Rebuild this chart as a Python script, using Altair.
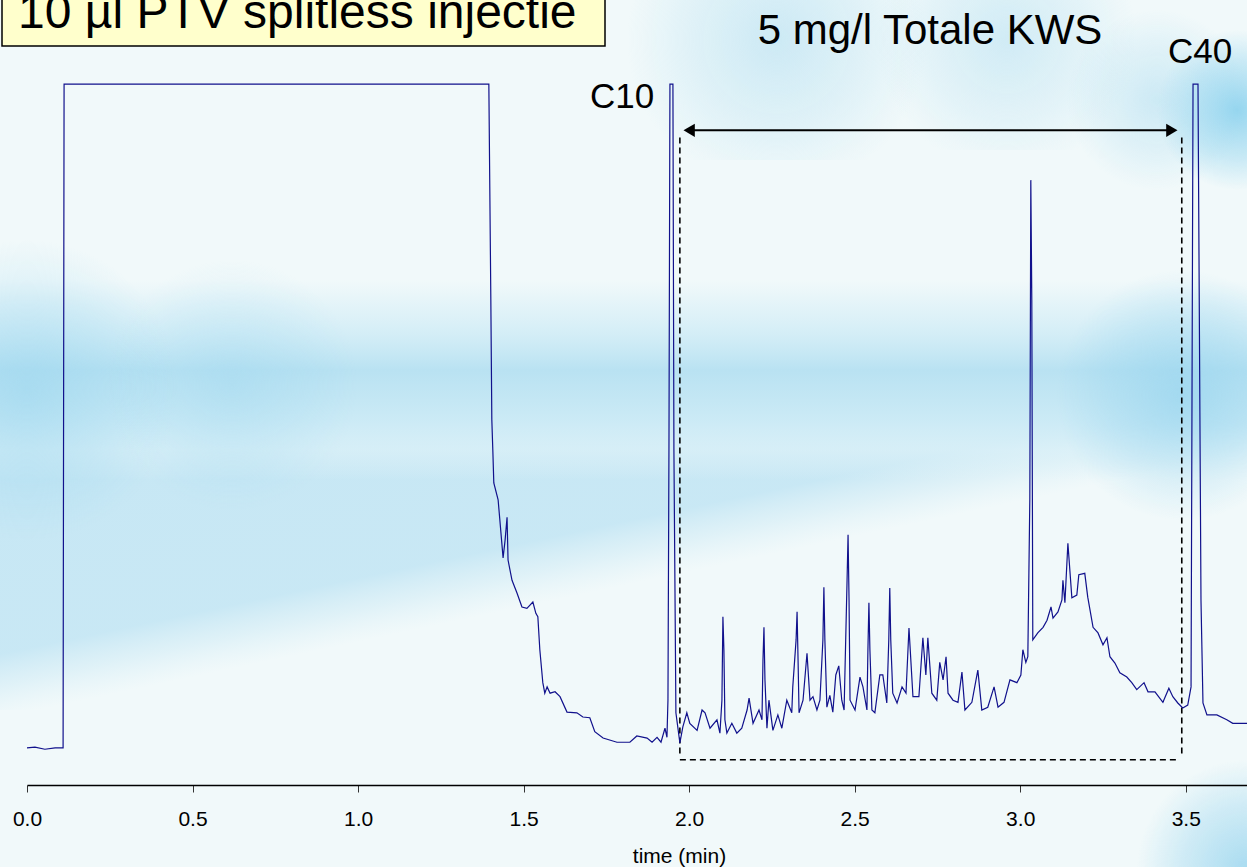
import altair as alt
import pandas as pd

# ---- chromatogram trace (time in min, signal in % of full scale, clipped at 100) ----
time_min = [0.000, 0.024, 0.054, 0.085, 0.106, 0.109, 0.112, 1.395, 1.401, 1.404, 1.407, 1.410,
            1.423, 1.438, 1.444, 1.450, 1.453, 1.465, 1.480, 1.495, 1.510, 1.528, 1.537, 1.543,
            1.549, 1.558, 1.564, 1.571, 1.580, 1.595, 1.610, 1.631, 1.661, 1.679, 1.700, 1.715,
            1.740, 1.782, 1.821, 1.842, 1.873, 1.888, 1.903, 1.915, 1.927, 1.933, 1.936, 1.939,
            1.942, 1.951, 1.954, 1.960, 1.972, 1.981, 1.993, 2.002, 2.024, 2.039, 2.048, 2.063,
            2.084, 2.093, 2.099, 2.102, 2.105, 2.108, 2.114, 2.129, 2.144, 2.159, 2.175, 2.181,
            2.193, 2.211, 2.220, 2.223, 2.226, 2.229, 2.235, 2.241, 2.253, 2.268, 2.280, 2.295,
            2.310, 2.313, 2.323, 2.326, 2.329, 2.332, 2.344, 2.356, 2.365, 2.374, 2.386, 2.395,
            2.404, 2.407, 2.410, 2.416, 2.425, 2.434, 2.443, 2.452, 2.461, 2.468, 2.477, 2.480,
            2.483, 2.486, 2.501, 2.516, 2.525, 2.537, 2.540, 2.543, 2.546, 2.552, 2.561, 2.576,
            2.585, 2.597, 2.603, 2.606, 2.609, 2.615, 2.628, 2.643, 2.655, 2.664, 2.676, 2.694,
            2.706, 2.715, 2.721, 2.733, 2.748, 2.757, 2.767, 2.776, 2.782, 2.797, 2.812, 2.824,
            2.833, 2.854, 2.872, 2.884, 2.902, 2.921, 2.933, 2.951, 2.969, 2.990, 3.002, 3.008,
            3.017, 3.023, 3.029, 3.032, 3.035, 3.038, 3.053, 3.069, 3.081, 3.093, 3.099, 3.114,
            3.126, 3.129, 3.135, 3.144, 3.156, 3.171, 3.177, 3.195, 3.204, 3.220, 3.235, 3.250,
            3.262, 3.271, 3.286, 3.301, 3.322, 3.337, 3.352, 3.374, 3.386, 3.407, 3.431, 3.449,
            3.461, 3.476, 3.491, 3.506, 3.516, 3.522, 3.537, 3.546, 3.552, 3.564, 3.594, 3.624,
            3.642, 3.685]
signal = [5.3, 5.4, 5.1, 5.3, 5.3, 5.3, 100, 100, 69.2, 52.1, 47.8, 43.1,
          40.7, 32.4, 34.9, 38.2, 32.1, 29.2, 27.4, 25.4, 25.2, 26.1, 24.5, 24.0,
          19.3, 14.6, 13.1, 14.0, 13.1, 13.3, 12.6, 10.4, 10.3, 9.7, 9.6, 7.6,
          6.7, 6.1, 6.1, 7.0, 6.7, 6.1, 6.8, 6.1, 8.1, 6.8, 12.1, 47.8,
          100, 100, 47.8, 10.3, 6.0, 8.3, 10.3, 8.8, 7.8, 10.7, 10.3, 8.1,
          9.3, 7.4, 12.1, 24.0, 19.3, 9.3, 7.4, 8.8, 7.4, 8.1, 10.7, 12.4,
          8.8, 10.7, 9.3, 17.8, 22.5, 15.0, 8.1, 12.1, 7.8, 10.0, 8.1, 12.1,
          10.3, 14.0, 20.7, 24.7, 17.8, 10.3, 12.1, 18.8, 12.1, 12.6, 10.7, 12.1,
          20.7, 28.2, 20.7, 11.1, 12.8, 10.4, 15.7, 17.0, 12.1, 10.7, 29.2, 35.7,
          26.4, 12.1, 10.7, 15.4, 14.0, 10.7, 19.3, 26.0, 19.3, 10.7, 10.3, 15.7,
          15.7, 11.7, 20.7, 28.1, 20.7, 13.1, 11.7, 14.0, 13.1, 22.4, 12.6, 12.6,
          21.0, 15.7, 21.0, 13.1, 12.1, 17.5, 15.0, 18.3, 13.1, 12.1, 11.8, 16.1,
          10.7, 11.8, 16.4, 10.7, 11.1, 14.0, 11.1, 11.8, 15.0, 14.6, 15.7, 19.3,
          17.5, 18.3, 40.7, 86.3, 69.2, 20.7, 21.7, 22.5, 23.5, 25.4, 23.8, 24.7,
          26.4, 29.2, 26.0, 34.5, 26.7, 27.1, 30.0, 30.2, 26.8, 22.5, 21.7, 20.0,
          21.0, 18.3, 17.4, 16.0, 15.4, 14.6, 13.6, 14.6, 13.3, 13.3, 11.8, 13.8,
          12.6, 11.7, 11.0, 11.4, 14.0, 100, 100, 26.4, 11.7, 10.0, 10.0, 9.3,
          8.8, 8.8]

# ---- annotation values (data units) ----
window_start = 1.972
window_end = 3.488
window_bottom = 3.6
window_top = 92.4
arrow_start = 2.000
arrow_end = 3.458
arrow_level = 93.4
tick_values = [0.0, 0.5, 1.0, 1.5, 2.0, 2.5, 3.0, 3.5]

FONT = "Liberation Sans"
W, H = 1220, 785

trace_df = pd.DataFrame({"t": time_min, "s": signal})

xscale = alt.Scale(domain=[0, 3.685], nice=False, zero=False)
yscale = alt.Scale(domain=[0, 112], nice=False)
X = alt.X("t:Q", scale=xscale,
          axis=alt.Axis(values=tick_values, format=".1f", title="time (min)",
                        grid=False, zindex=1, domainColor="black", domainWidth=1.3,
                        tickColor="#333333", tickSize=7, tickWidth=1,
                        labelFont=FONT, labelFontSize=21, labelColor="black",
                        labelFlush=False, labelOverlap=False,
                        labelBaseline="alphabetic", labelPadding=33,
                        titleFont=FONT, titleFontSize=21, titleFontWeight="normal",
                        titleColor="black", titleBaseline="alphabetic", titleAlign="center",
                        titleX=652, titleY=77))
Y = alt.Y("s:Q", scale=yscale, axis=None)

one = pd.DataFrame({"a": [0]})


def bg(grad, x, x2, y, y2):
    return alt.Chart(one).mark_rect(fill=grad).encode(
        x=alt.value(x), x2=alt.value(x2), y=alt.value(y), y2=alt.value(y2))


def stop(o, c):
    return alt.GradientStop(offset=o, color=c)


# upper horizontal blue stripe
stripe = alt.Gradient(gradient="linear", x1=0, y1=0, x2=0, y2=1, stops=[
    stop(0.0, "rgba(205,235,246,0)"),
    stop(0.25, "rgba(205,235,246,0.75)"),
    stop(0.45, "rgba(185,226,242,1)"),
    stop(0.60, "rgba(196,231,244,1)"),
    stop(0.72, "rgba(205,235,246,1)"),
    stop(0.85, "rgba(220,241,248,0.7)"),
    stop(1.0, "rgba(226,243,248,0)"),
])
# lower slanted blue band (top-left blue, bottom-right light)
lower = alt.Gradient(gradient="linear", x1=0, y1=0, x2=0.914, y2=1, stops=[
    stop(0.0, "rgba(196,230,244,0.95)"),
    stop(0.44, "rgba(196,230,244,0.9)"),
    stop(0.50, "rgba(205,234,245,0.5)"),
    stop(0.56, "rgba(215,238,247,0)"),
    stop(1.0, "rgba(215,238,247,0)"),
])


def blob(a, rgb="160,215,238"):
    return alt.Gradient(gradient="radial", x1=0.5, y1=0.5, x2=0.5, y2=0.5, r1=0, r2=0.5, stops=[
        stop(0.0, f"rgba({rgb},{a})"),
        stop(0.6, f"rgba({rgb},{a * 0.45})"),
        stop(1.0, f"rgba({rgb},0)"),
    ])


layers = [
    bg(lower, -27, W, 420, 710),
    bg(stripe, -27, W, 280, 480),
    bg(blob(0.45), 600, 900, -80, 160),
    bg(blob(0.4), 850, 1110, -70, 150),
    bg(blob(0.45), 1040, 1220, 10, 190),
    bg(blob(0.9, "140,210,238"), 1130, 1290, 30, 190),
    bg(blob(0.7, "150,212,238"), 1030, 1280, 270, 520),
    bg(blob(0.55, "150,212,238"), -150, 150, 240, 540),
    bg(blob(0.35, "150,212,238"), 80, 330, 260, 510),
    bg(blob(0.8, "150,212,238"), 1110, 1330, 760, 980),
]

# dashed integration window
win_df = pd.DataFrame({
    "t": [window_start, window_end, window_start],
    "t2": [window_start, window_end, window_end - 0.015],
    "s": [window_bottom + 0.9, window_bottom + 0.9, window_bottom],
    "s2": [window_top, window_top, window_bottom],
})
window = alt.Chart(win_df).mark_rule(color="black", strokeWidth=1.6, strokeDash=[6, 4]).encode(
    x=X, x2=alt.X2("t2"), y=Y, y2=alt.Y2("s2"))

arrow_df = pd.DataFrame({"t": [arrow_start], "t2": [arrow_end], "s": [arrow_level]})
arrow_line = alt.Chart(arrow_df).mark_rule(color="black", strokeWidth=2).encode(
    x=X, x2=alt.X2("t2"), y=Y)
head_l = alt.Chart(pd.DataFrame({"t": [arrow_start], "s": [arrow_level]})).mark_point(
    shape="triangle-left", filled=True, color="black", size=170, opacity=1).encode(x=X, y=Y)
head_r = alt.Chart(pd.DataFrame({"t": [arrow_end], "s": [arrow_level]})).mark_point(
    shape="triangle-right", filled=True, color="black", size=170, opacity=1).encode(x=X, y=Y)

trace = alt.Chart(trace_df).mark_line(color="#11118c", strokeWidth=1.2, interpolate="linear").encode(
    x=X, y=Y, order="t:Q")

title_box = alt.Chart(one).mark_rect(fill="#ffffcc", stroke="black", strokeWidth=1.5).encode(
    x=alt.value(-25), x2=alt.value(578), y=alt.value(-10), y2=alt.value(46))
title_txt = alt.Chart(one).mark_text(text="10 µl PTV splitless injectie", font=FONT, fontSize=48,
                                     align="left", baseline="alphabetic", color="black").encode(
    x=alt.value(-9), y=alt.value(28))
conc_txt = alt.Chart(one).mark_text(text="5 mg/l Totale KWS", font=FONT, fontSize=42,
                                    align="center", baseline="alphabetic", color="black").encode(
    x=alt.value(903), y=alt.value(44))
c40_txt = alt.Chart(one).mark_text(text="C40", font=FONT, fontSize=35,
                                   align="center", baseline="alphabetic", color="black").encode(
    x=alt.value(1173), y=alt.value(63))
c10_txt = alt.Chart(one).mark_text(text="C10", font=FONT, fontSize=35,
                                   align="center", baseline="alphabetic", color="black").encode(
    x=alt.value(595), y=alt.value(108))

chart = alt.layer(*layers, window, arrow_line, head_l, head_r, trace,
                  title_box, title_txt, conc_txt, c40_txt, c10_txt).properties(
    width=W, height=H,
    autosize=alt.AutoSizeParams(type="none"),
    padding={"left": 27, "top": 0, "right": 0, "bottom": 82},
    background="#f1f9fa",
).configure_view(stroke=None)

chart.save("out.html", embed_options={"renderer": "svg", "actions": False})
